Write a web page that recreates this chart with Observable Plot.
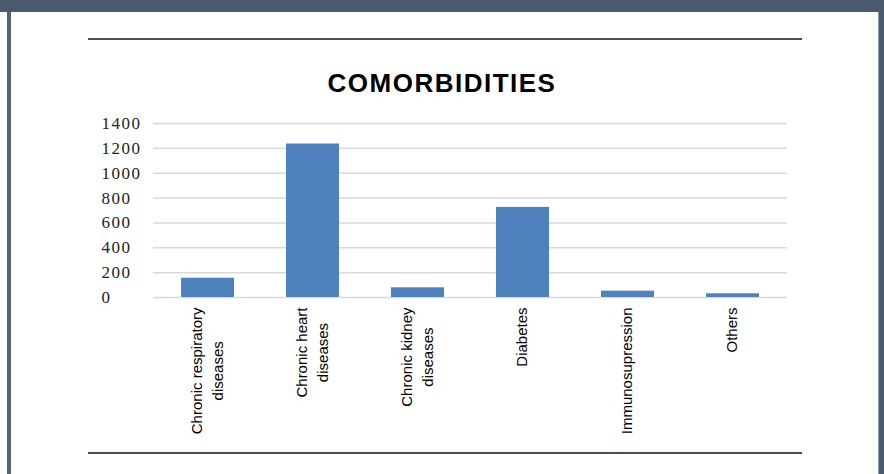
<!DOCTYPE html>
<html>
<head>
<meta charset="utf-8">
<script src="https://cdn.jsdelivr.net/npm/d3@7"></script>
<script src="https://cdn.jsdelivr.net/npm/@observablehq/plot@0.6"></script>
<style>
  html, body { margin: 0; padding: 0; background: #fff; }
  #page { position: relative; width: 884px; height: 474px; overflow: hidden; background: #fff; }
  .banner { position: absolute; left: 0; top: 0; width: 884px; height: 12px; background: #4a5a6e; }
  .side-l { position: absolute; left: 7px; top: 12px; width: 4px; height: 462px; background: #51627a; }
  .side-r { position: absolute; left: 878px; top: 12px; width: 6px; height: 462px; background: #4a5a6e; border-left: 1px solid #8c9bb0; box-sizing: border-box; }
  .rule { position: absolute; left: 88px; width: 714px; height: 2px; background: #4d4d4d; }
  .title { position: absolute; left: 0; width: 884px; top: 68px; text-align: center; font: bold 26px "Liberation Sans", Arial, sans-serif; letter-spacing: 1.5px; color: #000; }
  #chart { position: absolute; left: 0; top: 110px; }
</style>
</head>
<body>
<div id="page">
  <div class="banner"></div>
  <div class="side-l"></div>
  <div class="side-r"></div>
  <div class="rule" style="top:38px"></div>
  <div class="rule" style="top:452px"></div>
  <div class="title">COMORBIDITIES</div>
  <div id="chart"></div>
</div>
<script>
const categories = ["Chronic respiratory diseases", "Chronic heart diseases", "Chronic kidney diseases", "Diabetes", "Immunosupression", "Others"];
const tickLabels = ["Chronic respiratory\ndiseases", "Chronic heart\ndiseases", "Chronic kidney\ndiseases", "Diabetes", "Immunosupression", "Others"];
const values = [155, 1235, 78, 725, 51, 30];
const yTicks = [0, 200, 400, 600, 800, 1000, 1200, 1400];

const data = categories.map((c, i) => ({category: c, value: values[i], label: tickLabels[i]}));

const chart = Plot.plot({
  width: 884,
  height: 364,
  marginTop: 13,
  marginBottom: 177,
  marginLeft: 153,
  marginRight: 97,
  x: {domain: categories, paddingInner: 0.5, paddingOuter: 0.25, axis: null},
  y: {domain: [0, 1400], ticks: yTicks, axis: null},
  style: {background: "transparent", overflow: "visible"},
  marks: [
    Plot.gridY(yTicks, {stroke: "#d9d9d9", strokeOpacity: 1, strokeWidth: 1.5}),
    Plot.axisY(yTicks, {
      anchor: "left", tickSize: 0, tickPadding: 52, textAnchor: "start",
      tickFormat: d => String(d),
      fontSize: 17, fontFamily: "Liberation Serif, Times New Roman, serif",
      fill: "#222", label: null
    }),
    Plot.barY(data, {x: "category", y: "value", fill: "#4f81bd"}),
    Plot.text(data, {
      x: "category", frameAnchor: "bottom", text: "label",
      rotate: -90, textAnchor: "end", lineAnchor: "middle", lineHeight: 1.35,
      dy: 10, dx: -2, fontSize: 15, fontFamily: "Liberation Sans, Arial, sans-serif", fill: "#000"
    })
  ]
});
chart.querySelectorAll("[aria-label='y-axis tick label'] text").forEach(t => t.style.letterSpacing = "1.5px");
document.getElementById("chart").appendChild(chart);

// center the lines of each multi-line label relative to each other
chart.querySelectorAll("text").forEach(t => {
  const spans = t.querySelectorAll("tspan");
  if (spans.length > 1) {
    const lens = Array.from(spans, s => s.getComputedTextLength());
    const L = Math.max(...lens);
    spans.forEach((s, i) => s.setAttribute("x", -(L - lens[i]) / 2));
  }
});
</script>
</body>
</html>
